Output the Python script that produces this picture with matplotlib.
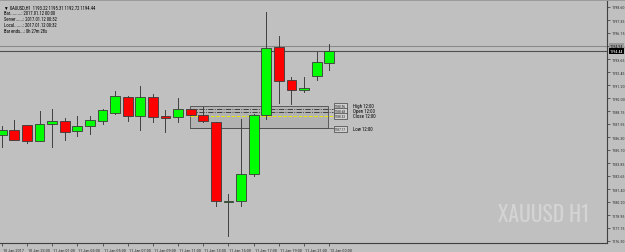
import matplotlib
matplotlib.use("Agg")
import logging
logging.getLogger("matplotlib.font_manager").setLevel(logging.ERROR)
import matplotlib.pyplot as plt
from matplotlib.patches import Rectangle
from matplotlib.transforms import blended_transform_factory, ScaledTranslation
from matplotlib import font_manager as fm

# ---------------- data ----------------
x_idx   = list(range(27))
opens   = [1186.51, 1187.01, 1187.45, 1185.97, 1187.52, 1187.80, 1186.86, 1187.33, 1187.86, 1188.56,
           1190.13, 1188.30, 1190.13, 1188.30, 1188.18, 1188.94, 1188.40, 1187.74, 1180.15, 1180.28,
           1182.83, 1188.40, 1194.85, 1191.70, 1190.76, 1192.11, 1193.28]
highs   = [1187.36, 1187.95, 1187.47, 1188.80, 1188.96, 1188.11, 1188.28, 1188.28, 1188.96, 1190.69,
           1190.15, 1191.17, 1190.38, 1188.87, 1190.00, 1188.96, 1189.13, 1187.76, 1180.94, 1188.02,
           1188.45, 1198.15, 1195.83, 1191.99, 1191.96, 1194.32, 1195.10]
lows    = [1185.38, 1186.04, 1185.75, 1185.95, 1185.40, 1186.07, 1186.44, 1186.60, 1187.55, 1188.50,
           1187.80, 1187.01, 1187.71, 1186.82, 1187.77, 1188.40, 1187.78, 1179.81, 1176.97, 1179.81,
           1182.64, 1188.02, 1189.53, 1189.44, 1190.57, 1191.73, 1192.68]
closes  = [1186.98, 1186.07, 1185.94, 1187.55, 1187.80, 1186.82, 1187.39, 1187.93, 1188.87, 1190.19,
           1188.30, 1190.10, 1188.24, 1188.11, 1188.99, 1188.43, 1187.80, 1180.28, 1180.23, 1182.83,
           1188.40, 1194.73, 1191.64, 1190.79, 1190.98, 1193.37, 1194.44]

x_tick_pos    = [0, 2, 4, 6, 8, 10, 12, 14, 16, 18, 20, 22, 24, 26]
x_tick_labels = ["10 Jan 2017", "10 Jan 23:00", "11 Jan 01:00", "11 Jan 03:00", "11 Jan 05:00",
                 "11 Jan 07:00", "11 Jan 09:00", "11 Jan 11:00", "11 Jan 13:00", "11 Jan 15:00",
                 "11 Jan 17:00", "11 Jan 19:00", "11 Jan 21:00", "12 Jan 00:00"]

y_tick_labels = ["1176.50", "1177.75", "1178.95", "1180.20", "1181.40", "1182.65", "1183.85",
                 "1185.10", "1186.30", "1187.55", "1188.75", "1190.00", "1191.20", "1192.45",
                 "1193.65", "1194.90", "1196.15", "1197.35", "1198.60"]
y_tick_vals = [float(s) for s in y_tick_labels]

bid_price = 1194.44
ask_price = 1194.94

box_x0, box_x1 = 14.94, 25.9
box_low, box_high = 1187.14, 1189.25
level_names  = ["High 12:00", "Open 12:00", "Close 12:00", "Low 12:00"]
level_prices = [1188.96, 1188.68, 1188.32, 1187.17]
level_texts  = ["1188.96", "1188.68", "1188.32", "1187.17"]
level_label_y = [1189.27, 1188.80, 1188.33, 1187.10]

header_lines = ["XAUUSD,H1  1193.22 1195.31 1192.72 1194.44",
                "Bar.........: 2017.01.12 00:00",
                "Server......: 2017.01.12 00:32",
                "Local.......: 2017.01.12 00:32",
                "Bar ends...: 0h 27m 28s"]
watermark = "XAUUSD H1"

# ---------------- fonts ----------------
BG = "#C0C0C0"
FONT = ["Liberation Sans", "DejaVu Sans"]
plt.rcParams["font.family"] = FONT
NARROW = ["Roboto Condensed", "Liberation Sans Narrow", "Liberation Sans", "DejaVu Sans"]
WMFONT = ["Oswald", "Roboto Condensed", "Liberation Sans Narrow", "Liberation Sans"]
small_fp = fm.FontProperties(family=NARROW)
wm_fp = fm.FontProperties(family=WMFONT, weight="bold")
tick_fs = 3.2

fig = plt.figure(figsize=(6.25, 2.53), dpi=100, facecolor=BG)
ax = fig.add_axes([0.0, 9 / 253, 607 / 625, 242 / 253], facecolor=BG)

# top darker strip
fig.patches.append(Rectangle((0, 251 / 253), 1, 2 / 253, transform=fig.transFigure,
                             facecolor="#9C9C9C", edgecolor="none", zorder=0))

ax.set_xlim(-0.135, 48.04)
ax.set_ylim(1176.31, 1199.16)

# range box
ax.add_patch(Rectangle((box_x0, box_low), box_x1 - box_x0, box_high - box_low,
                       facecolor="#B3B3B3", edgecolor="#5A5A5A", linewidth=0.7, zorder=1))
line_end = 26.3
ax.plot([box_x0, line_end], [level_prices[0]] * 2, color="#303030", lw=0.6, ls="-.", zorder=1.5)
ax.plot([box_x0, line_end], [level_prices[1]] * 2, color="#303030", lw=0.6, ls="-.", zorder=1.5)
ax.plot([box_x0, line_end], [level_prices[2]] * 2, color="#E8E800", lw=0.7, ls="--", zorder=1.5)
ax.plot([box_x0, line_end], [level_prices[3]] * 2, color="#505050", lw=0.6, ls="-", zorder=1.5)

# bid / ask lines
ax.axhline(ask_price, color="#8A8A8A", lw=0.8, zorder=1)
ax.axhline(bid_price, color="#505050", lw=0.8, zorder=1)

# candles
w = 0.78
for xi, o, h, l, c in zip(x_idx, opens, highs, lows, closes):
    ax.plot([xi, xi], [l, h], color="#404040", lw=0.7, zorder=2)
    col = "#00FF00" if c >= o else "#FF0000"
    bot, top = min(o, c), max(o, c)
    hgt = max(top - bot, 0.06)
    ax.add_patch(Rectangle((xi - w / 2, bot), w, hgt, facecolor=col,
                           edgecolor="#3A3A3A", linewidth=0.6, zorder=3))

# level labels
for nm, txt, ly in zip(level_names, level_texts, level_label_y):
    ax.text(26.45, ly, txt, fontproperties=small_fp, fontsize=2.5, color="#202020",
            va="center", ha="left",
            bbox=dict(boxstyle="square,pad=0.25", facecolor="#D0D0D0", edgecolor="#404040", lw=0.5),
            zorder=4)
    ax.text(27.9, ly, nm, fontproperties=small_fp, fontsize=3.5, color="#000000",
            va="center", ha="left", zorder=4)

# axes styling
for s in ["top", "left"]:
    ax.spines[s].set_visible(False)
for s in ["bottom", "right"]:
    ax.spines[s].set_color("#404040")
    ax.spines[s].set_linewidth(0.8)

ax.yaxis.tick_right()
ax.set_yticks(y_tick_vals)
ax.set_yticklabels(y_tick_labels, fontproperties=small_fp)
ax.tick_params(axis="y", length=2, width=0.5, colors="#303030", labelsize=3.0, pad=1.2)
ax.set_xticks(x_tick_pos)
ax.set_xticklabels(x_tick_labels, ha="left", fontproperties=small_fp)
ax.tick_params(axis="x", length=2.5, width=0.5, colors="#303030", labelsize=tick_fs, pad=1)
off = ScaledTranslation(1 / 100, 0, fig.dpi_scale_trans)
for lbl in ax.get_xticklabels():
    lbl.set_transform(lbl.get_transform() + off)

# price tags on right axis
tr = blended_transform_factory(ax.transAxes, ax.transData)
ax.text(1.004, ask_price, f"{ask_price:.2f}", transform=tr, fontproperties=small_fp,
        fontsize=3.0, color="#202020", va="center", ha="left", clip_on=False, zorder=6,
        bbox=dict(boxstyle="square,pad=0.2", facecolor="#9A9A9A", edgecolor="none"))
ax.text(1.004, bid_price, f"{bid_price:.2f}", transform=tr, fontproperties=small_fp,
        fontsize=3.0, color="#FFFFFF", va="center", ha="left", clip_on=False, zorder=6,
        bbox=dict(boxstyle="square,pad=0.2", facecolor="#000000", edgecolor="none"))

# header text
for k, line in enumerate(header_lines):
    ax.text(0.006, 0.985 - k * 0.024, ("\u25BC " if k == 0 else "") + line,
            transform=ax.transAxes, fontproperties=small_fp, fontsize=3.3,
            color="#000000", va="top", ha="left", zorder=6)

# watermark
ax.text(0.896, 0.12, watermark, transform=ax.transAxes, fontproperties=wm_fp, fontsize=15.5,
        color="#D4D4D4", ha="center", va="center", zorder=0.5)

fig.savefig("out.png", dpi=100, facecolor=BG)
